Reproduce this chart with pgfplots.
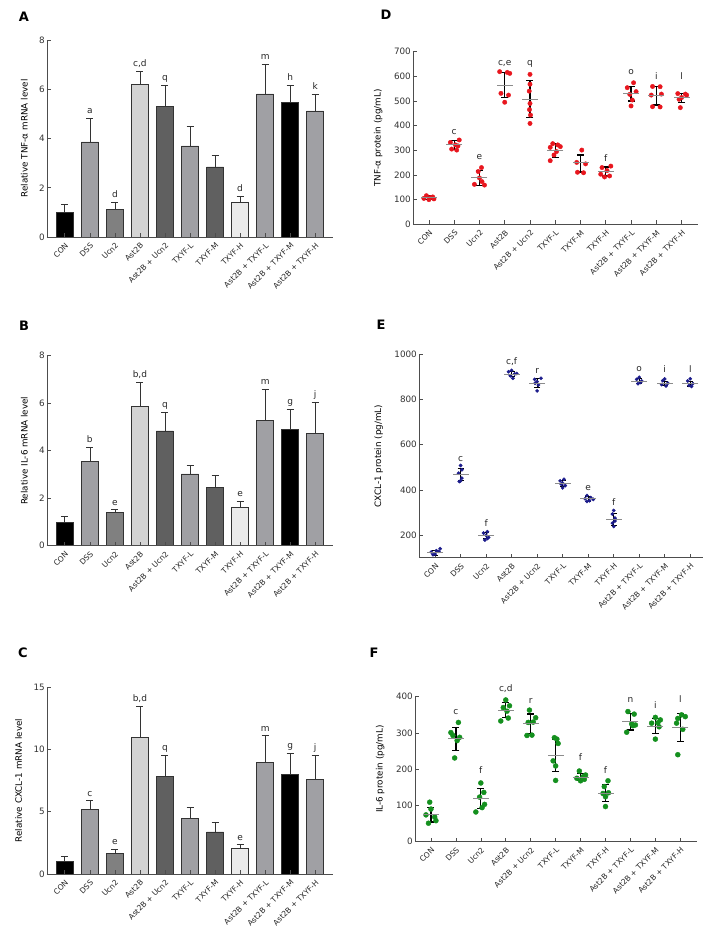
\documentclass[border=0pt]{standalone}
\usepackage{fontspec}
\setmainfont{DejaVu Sans}
\usepackage{pgfplots}
\pgfplotsset{compat=1.18}

\definecolor{cK}{HTML}{000000}
\definecolor{cG1}{HTML}{A0A0A4}
\definecolor{cG2}{HTML}{808080}
\definecolor{cL}{HTML}{D4D4D4}
\definecolor{cD}{HTML}{606060}
\definecolor{cVL}{HTML}{EBEBEB}
\definecolor{edge}{HTML}{333333}
\definecolor{ptred}{HTML}{E8161E}
\definecolor{ptblue}{HTML}{1C1C8C}
\definecolor{ptgreen}{HTML}{14901E}
\definecolor{meangray}{HTML}{8C8C8C}
\definecolor{axgray}{HTML}{4D4D4D}

\pgfplotsset{
  panel/.style={
    scale only axis, anchor=south west, clip=false,
    axis lines*=left,
    axis line style={draw=axgray, line width=0.7pt},
    tick align=inside, major tick length=4pt,
    tick style={draw=axgray, line width=0.6pt},
    xtick={0,...,10},
    xticklabels={CON,DSS,Ucn2,Ast2B,Ast2B + Ucn2,TXYF-L,TXYF-M,TXYF-H,Ast2B + TXYF-L,Ast2B + TXYF-M,Ast2B + TXYF-H},
    x tick label style={rotate=45, anchor=north east, font=\fontsize{7.6}{8}\selectfont, inner sep=3.5pt, text=black!85},
    y tick label style={font=\fontsize{8.8}{10}\selectfont, text=black!80, inner sep=2pt},
    ylabel style={font=\fontsize{8.8}{10}\selectfont, at={(ticklabel cs:0.5,6pt)}},
    /pgf/number format/assume math mode=true,
    /pgf/number format/1000 sep={},
    scaled y ticks=false,
  },
  bar/.style={ybar, bar width=0.68, bar shift=0pt, fill=#1, draw=edge, line width=0.5pt},
  errplus/.style={draw=none, mark=none, forget plot,
    error bars/.cd, y dir=plus, y explicit,
    error bar style={draw=edge, line width=0.6pt},
    error mark options={rotate=90, draw=edge, line width=0.6pt, mark size=3.5pt}},
  lab/.style={draw=none, mark=none, forget plot, nodes near coords, point meta=explicit symbolic,
    every node near coord/.append style={anchor=base, yshift=#1, font=\fontsize{9}{10}\selectfont, text=black!85, inner sep=0pt}},
  pts/.style 2 args={only marks, mark=*, mark size=#2, mark options={draw=#1, fill=#1}},
  meansd/.style 2 args={only marks, mark=-, mark size=8pt, mark options={draw=meangray, line width=0.9pt},
    error bars/.cd, y dir=both, y explicit,
    error bar style={draw=black, line width=#1},
    error mark options={rotate=90, draw=black, line width=#1, mark size=#2}},
}

\begin{document}
\begin{tikzpicture}
\path[use as bounding box] (0,0) rectangle (722pt,944pt);

% Panel letters
\node[font=\fontsize{13}{15}\selectfont\bfseries] at (24pt,927pt) {A};
\node[font=\fontsize{13}{15}\selectfont\bfseries] at (24pt,618pt) {B};
\node[font=\fontsize{13}{15}\selectfont\bfseries] at (23pt,291pt) {C};
\node[font=\fontsize{13}{15}\selectfont\bfseries] at (386pt,929pt) {D};
\node[font=\fontsize{13}{15}\selectfont\bfseries] at (381pt,619pt) {E};
\node[font=\fontsize{13}{15}\selectfont\bfseries] at (374pt,291pt) {F};

% ---------------- Panel A ----------------
\begin{axis}[panel, at={(47pt,707pt)}, width=286pt, height=197pt,
  xmin=-0.71, xmax=10.71, ymin=0, ymax=8, ytick={0,2,4,6,8}, axis on top,
  ylabel={Relative TNF-α mRNA level}]
\addplot[bar=cK] coordinates {(0,1.00) (9,5.46)};
\addplot[bar=cG1] coordinates {(1,3.86) (5,3.70) (8,5.81) (10,5.12)};
\addplot[bar=cG2] coordinates {(2,1.11)};
\addplot[bar=cL] coordinates {(3,6.22)};
\addplot[bar=cD] coordinates {(4,5.30) (6,2.85)};
\addplot[bar=cVL] coordinates {(7,1.41)};
\addplot[errplus] table[x=x, y=y, y error=e] {
x y e
0 1.00 0.31
1 3.86 0.98
2 1.11 0.30
3 6.22 0.51
4 5.30 0.88
5 3.70 0.81
6 2.85 0.45
7 1.41 0.24
8 5.81 1.22
9 5.46 0.72
10 5.12 0.69
};
\addplot[lab=4.5pt] table[x=x, y=y, meta=l] {
x y l
1 4.84 a
2 1.41 d
3 6.73 c,d
4 6.18 q
7 1.65 d
8 7.03 m
9 6.18 h
10 5.81 k
};
\end{axis}

% ---------------- Panel B ----------------
\begin{axis}[panel, at={(47pt,398.3pt)}, width=286pt, height=190pt,
  xmin=-0.71, xmax=10.71, ymin=0, ymax=8, ytick={0,2,4,6,8}, axis on top,
  ylabel={Relative IL-6 mRNA level}]
\addplot[bar=cK] coordinates {(0,0.98) (9,4.91)};
\addplot[bar=cG1] coordinates {(1,3.55) (5,3.02) (8,5.28) (10,4.73)};
\addplot[bar=cG2] coordinates {(2,1.42)};
\addplot[bar=cL] coordinates {(3,5.89)};
\addplot[bar=cD] coordinates {(4,4.83) (6,2.47)};
\addplot[bar=cVL] coordinates {(7,1.63)};
\addplot[errplus] table[x=x, y=y, y error=e] {
x y e
0 0.98 0.26
1 3.55 0.60
2 1.42 0.10
3 5.89 0.99
4 4.83 0.78
5 3.02 0.36
6 2.47 0.48
7 1.63 0.26
8 5.28 1.30
9 4.91 0.83
10 4.73 1.31
};
\addplot[lab=4.5pt] table[x=x, y=y, meta=l] {
x y l
1 4.15 b
2 1.52 e
3 6.88 b,d
4 5.61 q
7 1.89 e
8 6.58 m
9 5.74 g
10 6.04 j
};
\end{axis}

% ---------------- Panel C ----------------
\begin{axis}[panel, at={(47pt,70pt)}, width=286pt, height=187pt,
  xmin=-0.71, xmax=10.71, ymin=0, ymax=15, ytick={0,5,10,15}, axis on top,
  ylabel={Relative CXCL-1 mRNA level}]
\addplot[bar=cK] coordinates {(0,0.99) (9,8.02)};
\addplot[bar=cG1] coordinates {(1,5.19) (5,4.47) (8,8.96) (10,7.59)};
\addplot[bar=cG2] coordinates {(2,1.68)};
\addplot[bar=cL] coordinates {(3,10.96)};
\addplot[bar=cD] coordinates {(4,7.86) (6,3.37)};
\addplot[bar=cVL] coordinates {(7,2.03)};
\addplot[errplus] table[x=x, y=y, y error=e] {
x y e
0 0.99 0.40
1 5.19 0.69
2 1.68 0.30
3 10.96 2.49
4 7.86 1.66
5 4.47 0.85
6 3.37 0.75
7 2.03 0.32
8 8.96 2.14
9 8.02 1.69
10 7.59 1.93
};
\addplot[lab=4.5pt] table[x=x, y=y, meta=l] {
x y l
1 5.88 c
2 1.98 e
3 13.45 b,d
4 9.52 q
7 2.35 e
8 11.10 m
9 9.71 g
10 9.52 j
};
\end{axis}

% ---------------- Panel D ----------------
\begin{axis}[panel, at={(413pt,719.7pt)}, width=285pt, height=172.6pt,
  xmin=-0.63, xmax=10.65, ymin=0, ymax=700, ytick={0,100,...,700},
  ylabel={TNF-α protein (pg/mL)}]
\addplot[pts={ptred}{2.2pt}] table[x=x, y=y] {
x y
-0.10 116
0.15 111
-0.20 105
0.00 100
0.05 108
0.20 103
1.20 342
0.85 332
1.05 322
1.15 318
0.90 305
1.10 301
2.08 230
1.95 214
2.00 188
2.10 173
1.80 162
2.20 159
2.80 619
3.10 616
3.20 612
2.85 531
3.15 524
3.00 495
4.00 608
4.00 568
3.97 540
4.00 490
3.98 465
4.02 443
4.00 409
4.90 327
5.10 322
5.20 315
4.80 312
5.05 295
4.95 281
4.80 258
6.05 301
5.85 251
6.20 245
5.88 211
6.12 209
7.20 236
6.85 230
7.05 218
6.80 203
7.15 196
6.95 192
8.10 574
7.85 554
8.20 538
7.95 527
8.05 504
8.00 480
8.85 559
9.15 558
9.20 528
8.80 524
8.85 477
9.15 476
9.85 530
10.15 528
10.20 524
10.00 514
9.90 507
9.95 473
};
\addplot[meansd={1.3pt}{3.5pt}] table[x=x, y=y, y error plus=ep, y error minus=em] {
x y ep em
0 108 7 7
1 322 17 18
2 188 30 31
3 565 51 51
4 508 76 74
5 300 27 28
6 249 32 37
7 214 18 18
8 530 29 30
9 523 36 39
10 513 18 20
};
\addplot[lab=0pt] table[x=x, y=y, meta=l] {
x y l
1 363 c
2 261 e
3 643 c,e
4 643 q
7 254 f
8 609 o
9 588 i
10 588 l
};
\end{axis}

% ---------------- Panel E ----------------
\begin{axis}[panel, at={(419pt,386.3pt)}, width=284pt, height=203.4pt,
  xmin=-0.63, xmax=10.5, ymin=100, ymax=1000, ytick={200,400,...,1000},
  ylabel={CXCL-1 protein (pg/mL)}]
\addplot[pts={ptblue}{1.65pt}] table[x=x, y=y] {
x y
0.20 140
0.05 131
-0.15 125
0.00 116
-0.08 113
0.15 128
1.00 508
1.05 489
0.92 474
1.05 452
0.95 437
1.00 440
2.05 215
1.90 209
2.00 199
2.10 190
1.95 178
2.05 185
3.00 929
2.88 923
3.12 913
2.95 905
3.05 894
3.20 915
4.15 894
3.90 889
4.00 879
4.05 864
4.00 838
3.92 872
5.05 447
4.90 440
5.00 430
5.10 419
5.00 409
4.95 425
5.95 375
6.10 366
5.88 361
6.05 352
5.95 349
6.20 358
7.00 309
6.95 293
7.05 275
6.95 253
7.00 238
7.05 262
8.00 898
7.90 889
8.10 882
7.95 870
8.05 875
9.00 891
8.92 883
9.12 872
8.88 866
9.05 860
10.00 892
9.90 882
10.10 870
9.95 862
10.05 858
};
\addplot[meansd={0.9pt}{3pt}] table[x=x, y=y, y error plus=ep, y error minus=em] {
x y ep em
0 122 10 10
1 468 28 26
2 198 14 14
3 913 12 12
4 873 20 20
5 428 14 14
6 360 10 10
7 270 26 26
8 882 9 9
9 872 10 10
10 869 11 11
};
\addplot[lab=0pt] table[x=x, y=y, meta=l] {
x y l
1 525 c
2 238 f
3 955 c,f
4 916 r
6 397 e
7 331 f
8 923 o
9 920 i
10 920 l
};
\end{axis}

% ---------------- Panel F ----------------
\begin{axis}[panel, at={(415pt,102.3pt)}, width=282pt, height=145pt,
  xmin=-0.64, xmax=10.67, ymin=0, ymax=400, ytick={0,100,...,400},
  ylabel={IL-6 protein (pg/mL)}]
\addplot[pts={ptgreen}{2.5pt}] table[x=x, y=y] {
x y
-0.05 109
0.00 90
-0.20 74
0.15 68
0.20 58
-0.10 51
1.10 329
0.80 301
0.88 293
1.15 288
1.05 279
0.95 231
2.00 162
2.12 136
1.95 123
2.15 103
2.05 94
1.80 82
3.00 391
3.15 375
2.90 370
3.10 341
2.80 333
3.05 360
3.95 363
4.20 342
3.90 329
3.85 293
4.05 294
4.10 330
4.95 287
5.10 271
5.05 283
4.90 223
5.00 209
5.00 169
5.95 195
6.20 184
6.10 179
5.85 175
6.00 168
6.15 172
7.10 168
6.95 152
6.90 133
7.00 124
7.00 97
7.12 135
7.90 359
8.15 352
8.05 325
8.20 322
7.85 302
8.10 320
9.00 343
9.20 336
8.85 327
9.15 317
9.00 283
9.10 328
10.05 350
9.90 340
9.85 327
10.10 310
9.90 240
10.20 345
};
\addplot[meansd={1.3pt}{3.5pt}] table[x=x, y=y, y error plus=ep, y error minus=em] {
x y ep em
0 75 20 21
1 284 32 32
2 119 28 27
3 362 22 19
4 326 26 27
5 237 46 44
6 178 11 8
7 134 24 24
8 333 21 25
9 319 20 20
10 315 39 39
};
\addplot[lab=0pt] table[x=x, y=y, meta=l] {
x y l
1 350 c
2 189 f
3 414 c,d
4 380 r
6 223 f
7 189 f
8 384 n
9 368 i
10 384 l
};
\end{axis}
\end{tikzpicture}
\end{document}
